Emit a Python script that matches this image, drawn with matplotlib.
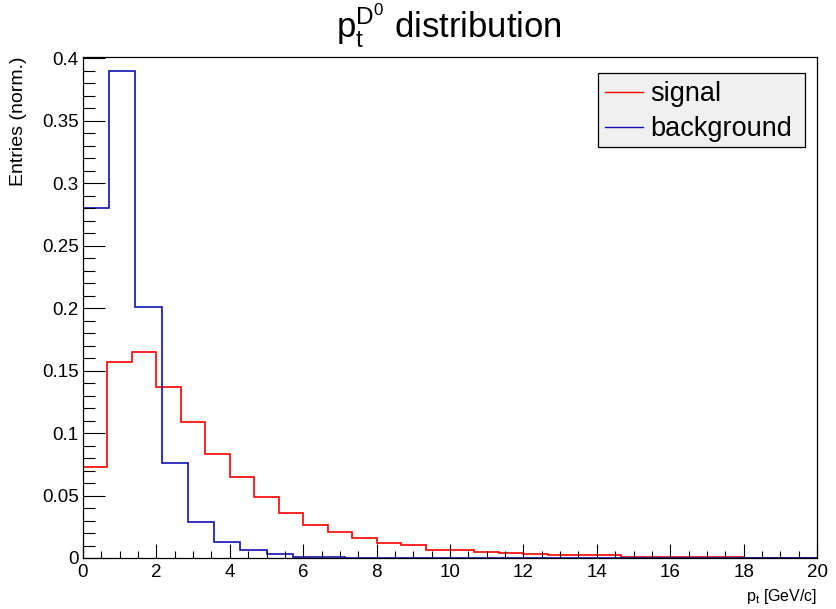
import numpy as np
import matplotlib
matplotlib.use("Agg")
import matplotlib.pyplot as plt
from matplotlib.patches import Rectangle
from matplotlib.lines import Line2D

plt.rcParams['font.family'] = ['Liberation Sans', 'DejaVu Sans']
plt.rcParams['mathtext.default'] = 'regular'

# signal: 30 bins over 0-20 GeV/c, background: 28 bins over 0-20 GeV/c
signal_edges = np.linspace(0, 20, 31)
signal_vals = [0.073, 0.157, 0.1646, 0.137, 0.109, 0.0836, 0.0649, 0.0489,
               0.0358, 0.0264, 0.0205, 0.0158, 0.0118, 0.0107, 0.0064, 0.0062,
               0.0050, 0.0042, 0.0032, 0.0022, 0.0022, 0.0022, 0.0010, 0.0010,
               0.0010, 0.0010, 0.0010, 0.0, 0.0, 0.0]

background_edges = np.linspace(0, 20, 29)
background_vals = [0.280, 0.390, 0.2008, 0.076, 0.0285, 0.013, 0.0064, 0.0032,
                   0.0012, 0.0008, 0.0, 0.0, 0.0, 0.0, 0.0, 0.0, 0.0, 0.0,
                   0.0, 0.0, 0.0, 0.0, 0.0, 0.0, 0.0, 0.0, 0.0, 0.0]

labels = ['signal', 'background']
colors = ['#ff0000', '#1010b0']

W, H = 836, 609
fig = plt.figure(figsize=(W / 100, H / 100), dpi=100)
x0, x1, y0, y1 = 83, 817, 558, 57
ax = fig.add_axes([x0 / W, 1 - y0 / H, (x1 - x0) / W, (y0 - y1) / H])

ax.stairs(signal_vals, signal_edges, color=colors[0], lw=1.2)
ax.stairs(background_vals, background_edges, color=colors[1], lw=1.2)

ax.set_xlim(0, 20)
ax.set_ylim(0, 0.401)
ax.set_xticks(np.arange(0, 21, 2))
ax.set_xticks(np.arange(0, 20.01, 0.5), minor=True)
ax.set_yticks(np.arange(0, 0.401, 0.05))
ax.set_yticks(np.arange(0, 0.401, 0.01), minor=True)
ax.yaxis.set_major_formatter(matplotlib.ticker.FormatStrFormatter('%g'))
ax.xaxis.set_major_formatter(matplotlib.ticker.FormatStrFormatter('%g'))
ax.tick_params(axis='both', which='both', direction='in', width=0.8, labelsize=13.5,
               top=False, right=False)
ax.tick_params(axis='x', which='major', length=10, pad=4)
ax.tick_params(axis='x', which='minor', length=5)
ax.tick_params(axis='y', which='major', length=16, pad=3)
ax.tick_params(axis='y', which='minor', length=8.5)
for s in ax.spines.values():
    s.set_linewidth(0.9)

fig.text(449 / W, 1 - 38 / H, r'$p_{t}^{D^{0}}$ distribution', fontsize=25,
         ha='center', va='baseline')
fig.text(817 / W, 1 - 601 / H, r'$p_{t}$ [GeV/c]', fontsize=11.5,
         ha='right', va='baseline')
fig.text(19 / W, 1 - 57 / H, 'Entries (norm.)', fontsize=14, rotation=90,
         ha='center', va='top')

# ROOT-style legend box, placed in figure pixels
fig.patches.append(Rectangle((598 / W, 1 - 147 / H), (805 - 598) / W, (147 - 73) / H,
                             transform=fig.transFigure, facecolor='#f0f0f0',
                             edgecolor='black', lw=0.9, zorder=5))
for i, (lab, col) in enumerate(zip(labels, colors)):
    yy = 1 - (92 + 35 * i) / H
    fig.lines.append(Line2D([605 / W, 643 / W], [yy, yy], transform=fig.transFigure,
                            color=col, lw=1.0, zorder=6))
    fig.text(650 / W, yy - 2 / H, lab, fontsize=19.5, ha='left', va='center', zorder=6)

fig.savefig('out.png', dpi=100)
